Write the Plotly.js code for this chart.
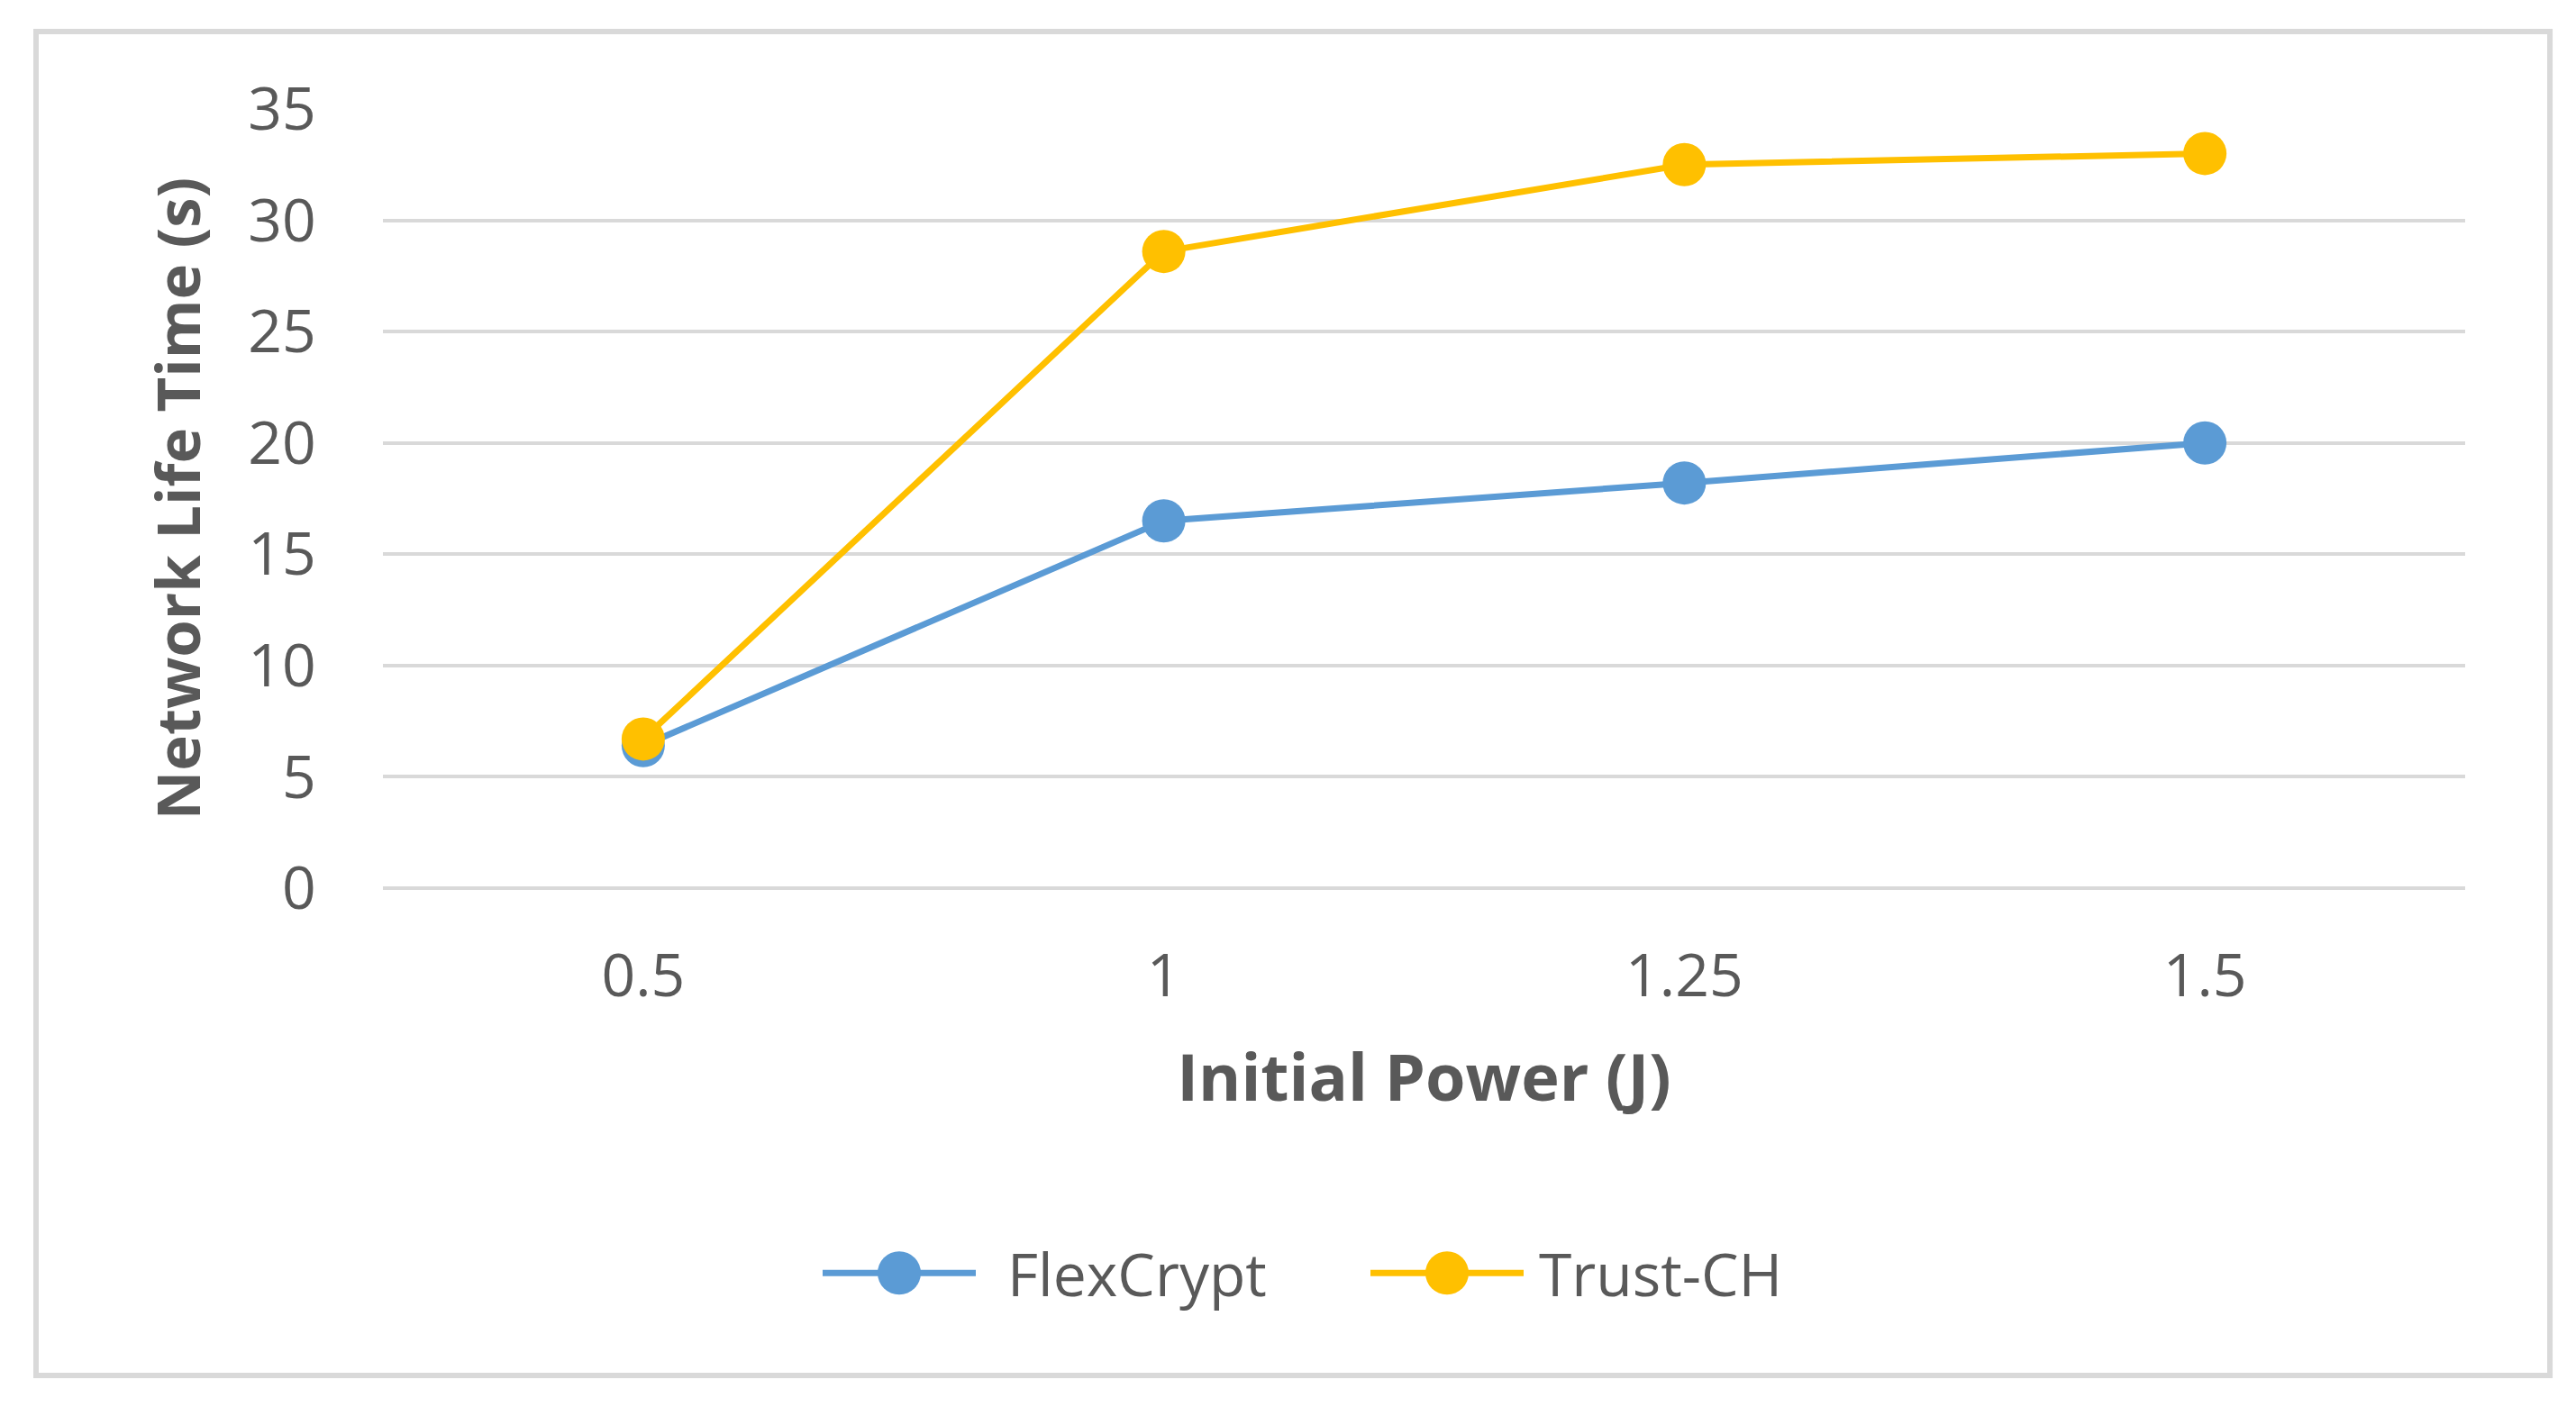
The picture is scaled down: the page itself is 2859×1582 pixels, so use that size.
<!DOCTYPE html>
<html>
<head>
<meta charset="utf-8">
<script src="https://cdn.plot.ly/plotly-3.0.1.min.js"></script>
<style>
  html, body { margin: 0; padding: 0; background: #ffffff; }
  #chart { width: 2859px; height: 1582px; }
</style>
</head>
<body>
<div id="chart"></div>
<script>
// ---- data ----
const categories = ["0.5", "1", "1.25", "1.5"];
const flexCrypt = [6.4, 16.5, 18.2, 20.0];
const trustCH = [6.7, 28.6, 32.5, 33.0];
const seriesNames = ["FlexCrypt", "Trust-CH"];
const yTicks = [0, 5, 10, 15, 20, 25, 30, 35];

const BLUE = "#5B9BD5";
const GOLD = "#FFC000";
const TEXT = "#595959";
const GRID = "#D9D9D9";
const FONT = "Open Sans, Noto Sans, sans-serif";

const traces = [
  {
    x: categories, y: flexCrypt, name: seriesNames[0],
    type: "scatter", mode: "lines+markers",
    line: { color: BLUE, width: 7 },
    marker: { color: BLUE, size: 48, symbol: "circle" }
  },
  {
    x: categories, y: trustCH, name: seriesNames[1],
    type: "scatter", mode: "lines+markers",
    line: { color: GOLD, width: 7 },
    marker: { color: GOLD, size: 48, symbol: "circle" }
  }
];

const layout = {
  width: 2859,
  height: 1582,
  paper_bgcolor: "#ffffff",
  plot_bgcolor: "#ffffff",
  margin: { l: 425, r: 123, t: 121, b: 596 },
  font: { family: FONT, color: TEXT, size: 66 },
  showlegend: true,
  xaxis: {
    type: "category",
    range: [-0.5, 3.5],
    showgrid: false,
    zeroline: false,
    showline: false,
    ticks: "outside",
    ticklen: 40,
    tickcolor: "rgba(0,0,0,0)",
    tickfont: { family: FONT, size: 66, color: TEXT },
    title: {
      text: "Initial Power (J)",
      font: { family: FONT, size: 72, color: TEXT, weight: "bold" },
      standoff: 47
    }
  },
  yaxis: {
    range: [0, 35],
    tickvals: yTicks,
    showgrid: true,
    gridcolor: GRID,
    gridwidth: 4,
    zeroline: true,
    zerolinecolor: GRID,
    zerolinewidth: 4,
    showline: false,
    ticks: "outside",
    ticklen: 60,
    tickcolor: "rgba(0,0,0,0)",
    tickfont: { family: FONT, size: 66, color: TEXT },
    title: {
      text: "Network Life Time (s)",
      font: { family: FONT, size: 67, color: TEXT, weight: "bold" },
      standoff: 30
    }
  },
  legend: {
    orientation: "h",
    x: 0.209,
    xanchor: "left",
    y: -0.494,
    yanchor: "middle",
    font: { family: FONT, size: 66, color: TEXT },
    itemwidth: 170,
    entrywidth: 423,
    entrywidthmode: "pixels",
    bgcolor: "rgba(0,0,0,0)"
  },
  shapes: [
    {
      type: "rect", xref: "paper", yref: "paper", layer: "below",
      x0: -0.1666, x1: 1.0407, y0: -0.6254, y1: 1.0994,
      line: { color: GRID, width: 6 },
      fillcolor: "rgba(0,0,0,0)"
    }
  ]
};

Plotly.newPlot("chart", traces, layout, { staticPlot: true, displayModeBar: false }).then(function (gd) {
  // enlarge legend markers to match the series markers
  gd.querySelectorAll(".legend .legendpoints path.scatterpts").forEach(function (p) {
    const t = p.getAttribute("transform") || "";
    p.setAttribute("transform", t + " scale(3)");
  });
  // widen the gap between legend symbol and label
  const textShift = [30, 12];
  gd.querySelectorAll(".legend text.legendtext").forEach(function (t, i) {
    const x = parseFloat(t.getAttribute("x") || "0");
    t.setAttribute("x", x + (textShift[i] !== undefined ? textShift[i] : 20));
  });
});
</script>
</body>
</html>
